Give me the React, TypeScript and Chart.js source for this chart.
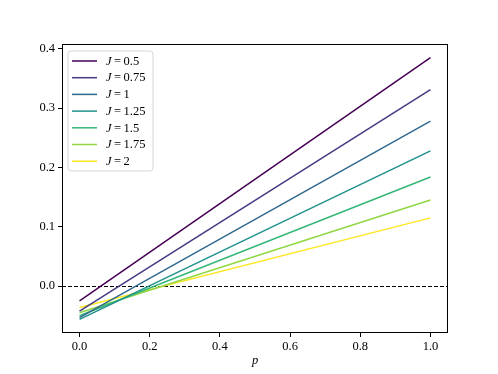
import React, { useEffect, useRef } from "react";
import { Chart, registerables } from "chart.js";
Chart.register(...registerables);

const J_LABELS = ["0.5", "0.75", "1", "1.25", "1.5", "1.75", "2"];
const P_VALUES = [0, 1];
const Y_AT_P0 = [-0.025, -0.042, -0.053, -0.056, -0.050, -0.045, -0.036];
const Y_AT_P1 = [0.385, 0.331, 0.278, 0.228, 0.184, 0.145, 0.115];
const COLORS = ["#440154", "#443983", "#31688e", "#21918c", "#35b779", "#90d743", "#fde725"];
const X_TICKS = [0, 0.2, 0.4, 0.6, 0.8, 1.0];
const Y_TICKS = [0, 0.1, 0.2, 0.3, 0.4];
const X_LABEL = "p";

const FONT = "'Liberation Serif', 'DejaVu Serif', serif";

const framePlugin = {
  id: "frameAndLegend",
  beforeDatasetsDraw(chart: any) {
    const { ctx, chartArea, scales } = chart;
    const y0 = scales.y.getPixelForValue(0);
    ctx.save();
    ctx.strokeStyle = "#000";
    ctx.lineWidth = 1;
    ctx.setLineDash([4, 2]);
    ctx.beginPath();
    ctx.moveTo(chartArea.left, Math.round(y0) + 0.5);
    ctx.lineTo(chartArea.right, Math.round(y0) + 0.5);
    ctx.stroke();
    ctx.restore();
  },
  afterDraw(chart: any) {
    const { ctx, chartArea } = chart;
    ctx.save();
    ctx.strokeStyle = "#000";
    ctx.lineWidth = 1;
    const l = Math.round(chartArea.left) + 0.5;
    const t = Math.round(chartArea.top) + 0.5;
    const rr = Math.round(chartArea.right) - 0.5;
    const b = Math.round(chartArea.bottom) - 0.5;
    ctx.strokeRect(l, t, rr - l, b - t);
    // legend
    const bx = chartArea.left + 6;
    const by = chartArea.top + 7;
    const bw = 85;
    const bh = 120;
    ctx.fillStyle = "rgba(255,255,255,0.8)";
    ctx.strokeStyle = "#d6d6d6";
    ctx.beginPath();
    const r = 3;
    ctx.moveTo(bx + r, by);
    ctx.arcTo(bx + bw, by, bx + bw, by + bh, r);
    ctx.arcTo(bx + bw, by + bh, bx, by + bh, r);
    ctx.arcTo(bx, by + bh, bx, by, r);
    ctx.arcTo(bx, by, bx + bw, by, r);
    ctx.closePath();
    ctx.fill();
    ctx.stroke();
    ctx.textBaseline = "middle";
    J_LABELS.forEach((lab, i) => {
      const yy = by + 10 + i * 16.7;
      ctx.strokeStyle = COLORS[i];
      ctx.lineWidth = 1.5;
      ctx.beginPath();
      ctx.moveTo(bx + 4, yy);
      ctx.lineTo(bx + 29, yy);
      ctx.stroke();
      ctx.fillStyle = "#000";
      ctx.font = `italic 12.5px ${FONT}`;
      ctx.fillText("J", bx + 38, yy + 0.5);
      const w = ctx.measureText("J").width;
      ctx.font = `12.5px ${FONT}`;
      ctx.fillText("=", bx + 38 + w + 2.5, yy + 0.5);
      const we = ctx.measureText("=").width;
      ctx.fillText(lab, bx + 38 + w + 2.5 + we + 2.5, yy + 0.5);
    });
    ctx.restore();
  },
};

export default function App() {
  const ref = useRef<HTMLCanvasElement>(null);
  useEffect(() => {
    if (!ref.current) return;
    const chart = new Chart(ref.current, {
      type: "line",
      data: {
        datasets: J_LABELS.map((lab, i) => ({
          label: "J = " + lab,
          data: P_VALUES.map((p, k) => ({ x: p, y: k === 0 ? Y_AT_P0[i] : Y_AT_P1[i] })),
          borderColor: COLORS[i],
          backgroundColor: COLORS[i],
          borderWidth: 1.5,
          pointRadius: 0,
          fill: false,
        })),
      },
      options: {
        animation: false,
        responsive: false,
        maintainAspectRatio: false,
        layout: { padding: { left: 0, top: 44, right: 50, bottom: 0 } },
        plugins: { legend: { display: false }, tooltip: { enabled: false } },
        scales: {
          x: {
            type: "linear",
            min: -0.05,
            max: 1.05,
            afterBuildTicks: (s: any) => {
              s.ticks = X_TICKS.map((v) => ({ value: v }));
            },
            afterFit: (s: any) => {
              s.height = 41;
            },
            ticks: {
              callback: (v: any) => Number(v).toFixed(1),
              color: "#000",
              font: { family: FONT, size: 12.5 },
              padding: 2,
              maxRotation: 0,
            },
            grid: { drawOnChartArea: false, drawTicks: true, tickLength: 4, tickColor: "#000" },
            border: { display: false },
            title: {
              display: true,
              text: X_LABEL,
              color: "#000",
              font: { family: FONT, size: 12.5, style: "italic" },
              padding: { top: 0, bottom: 6 },
            },
          },
          y: {
            type: "linear",
            min: -0.079,
            max: 0.408,
            afterBuildTicks: (s: any) => {
              s.ticks = Y_TICKS.map((v) => ({ value: v }));
            },
            afterFit: (s: any) => {
              s.width = 62;
            },
            ticks: {
              callback: (v: any) => Number(v).toFixed(1),
              color: "#000",
              font: { family: FONT, size: 12.5 },
              padding: 3,
            },
            grid: { drawOnChartArea: false, drawTicks: true, tickLength: 4, tickColor: "#000" },
            border: { display: false },
          },
        },
      },
      plugins: [framePlugin],
    });
    return () => chart.destroy();
  }, []);
  return (
    <div style={{ position: "fixed", left: 0, top: 0, width: 498, height: 374, background: "#fff" }}>
      <canvas ref={ref} width={498} height={374} style={{ width: 498, height: 374, display: "block" }} />
    </div>
  );
}
